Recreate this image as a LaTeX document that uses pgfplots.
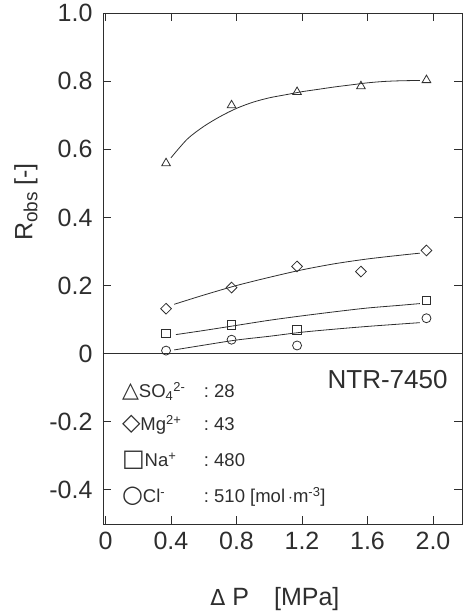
\documentclass[border=0pt]{standalone}
\usepackage{fontspec}
\setmainfont{Liberation Sans}
\newfontfamily\symfont{DejaVu Sans}
\usepackage{pgfplots}
\pgfplotsset{compat=1.18}
\definecolor{ink}{gray}{0.18}

\begin{document}
\begin{tikzpicture}[lg/.style={anchor=base west, inner sep=0pt, text=ink, font=\fontsize{18.5}{22}\selectfont}]
\path[use as bounding box] (-103pt,-92pt) rectangle (360pt,524pt);
\begin{axis}[
 scale only axis, width=359pt, height=511pt,
 at={(0,0)}, anchor=south west,
 xmin=-0.015, xmax=2.177, ymin=-0.5, ymax=1.0,
 axis line style={line width=0.9pt, draw=ink},
 xtick={0,0.4,0.8,1.2,1.6,2.0}, xticklabels={0,0.4,0.8,1.2,1.6,2.0},
 ytick={-0.4,-0.2,0,0.2,0.4,0.6,0.8,1.0}, yticklabels={-0.4,-0.2,0,0.2,0.4,0.6,0.8,1.0},
 tick align=inside, major tick length=8pt,
 tick style={line width=0.9pt, draw=ink},
 ticklabel style={font=\fontsize{25}{30}\selectfont, text=ink},
 xticklabel style={yshift=-5pt},
 yticklabel style={xshift=-7pt},
 /pgf/number format/assume math mode=true,
 xlabel={\symfont\fontsize{22}{26}\selectfont Δ\fontsize{25}{30}\selectfont\rmfamily\ P\quad[MPa]},
 ylabel={R{\fontsize{19}{20}\selectfont\raisebox{-5pt}{obs}} [-]},
 xlabel style={at={(axis description cs:0.479,-0.147)}, anchor=center, font=\fontsize{25}{30}\selectfont, text=ink},
 ylabel style={at={(axis description cs:-0.215,0.63)}, anchor=center, font=\fontsize{25}{30}\selectfont, text=ink},
 clip=false,
]
% zero line
\addplot[draw=ink, line width=0.9pt] coordinates {(-0.015,0) (2.177,0)};

% fitted curves
\addplot[draw=ink, line width=0.8pt, smooth] coordinates {
 (0.40,0.575) (0.5,0.630) (0.6,0.667) (0.7,0.696) (0.8,0.720) (0.9,0.738) (1.0,0.751)
 (1.1,0.760) (1.2,0.769) (1.3,0.776) (1.4,0.783) (1.5,0.789) (1.6,0.795) (1.7,0.799)
 (1.8,0.801) (1.92,0.802)};
\addplot[draw=ink, line width=0.8pt, smooth] coordinates {
 (0.42,0.145) (0.6,0.172) (0.8,0.200) (1.0,0.224) (1.2,0.246) (1.4,0.264)
 (1.6,0.278) (1.8,0.289) (1.92,0.295)};
\addplot[draw=ink, line width=0.8pt, smooth] coordinates {
 (0.43,0.056) (0.6,0.068) (0.8,0.083) (1.0,0.098) (1.2,0.111) (1.4,0.123)
 (1.6,0.134) (1.8,0.142) (1.92,0.147)};
\addplot[draw=ink, line width=0.8pt, smooth] coordinates {
 (0.42,0.011) (0.6,0.025) (0.8,0.040) (1.0,0.051) (1.2,0.063) (1.4,0.072)
 (1.6,0.080) (1.8,0.087) (1.92,0.091)};

% measured points
\addplot[only marks, mark=triangle, mark size=5pt, mark options={draw=ink, fill=white, line width=0.8pt}] coordinates {
 (0.37,0.559) (0.77,0.729) (1.17,0.768) (1.56,0.785) (1.96,0.803)};
\addplot[only marks, mark=square, mark size=3.8pt, mark options={draw=ink, fill=white, line width=0.8pt, rotate=45}] coordinates {
 (0.37,0.132) (0.77,0.194) (1.17,0.256) (1.56,0.241) (1.96,0.303)};
\addplot[only marks, mark=square, mark size=4.3pt, mark options={draw=ink, fill=white, line width=0.8pt}] coordinates {
 (0.37,0.059) (0.77,0.085) (1.17,0.070) (1.96,0.156)};
\addplot[only marks, mark=o, mark size=4.5pt, mark options={draw=ink, fill=white, line width=0.8pt}] coordinates {
 (0.37,0.009) (0.77,0.041) (1.17,0.024) (1.96,0.104)};

% legend text
\node[lg] at (axis cs:0.10,-0.129) {{\symfont\fontsize{22}{22}\selectfont △}SO\textsubscript{4}\textsuperscript{2-}};
\node[lg] at (axis cs:0.10,-0.226) {{\symfont\fontsize{24}{22}\selectfont ◇}Mg\textsuperscript{2+}};
\node[lg] at (axis cs:0.10,-0.332) {{\symfont\fontsize{24}{22}\selectfont □}Na\textsuperscript{+}};
\node[lg] at (axis cs:0.10,-0.438) {{\symfont\fontsize{24}{22}\selectfont ○}Cl\textsuperscript{-}};
\node[lg] at (axis cs:0.60,-0.129) {:\ 28};
\node[lg] at (axis cs:0.60,-0.226) {:\ 43};
\node[lg] at (axis cs:0.60,-0.332) {:\ 480};
\node[lg] at (axis cs:0.60,-0.438) {:\ 510 [mol\,$\cdot$m\textsuperscript{-3}]};
\node[anchor=base east, inner sep=0pt, text=ink, font=\fontsize{26}{30}\selectfont] at (axis cs:2.09,-0.103) {NTR-7450};
\end{axis}
\end{tikzpicture}
\end{document}
